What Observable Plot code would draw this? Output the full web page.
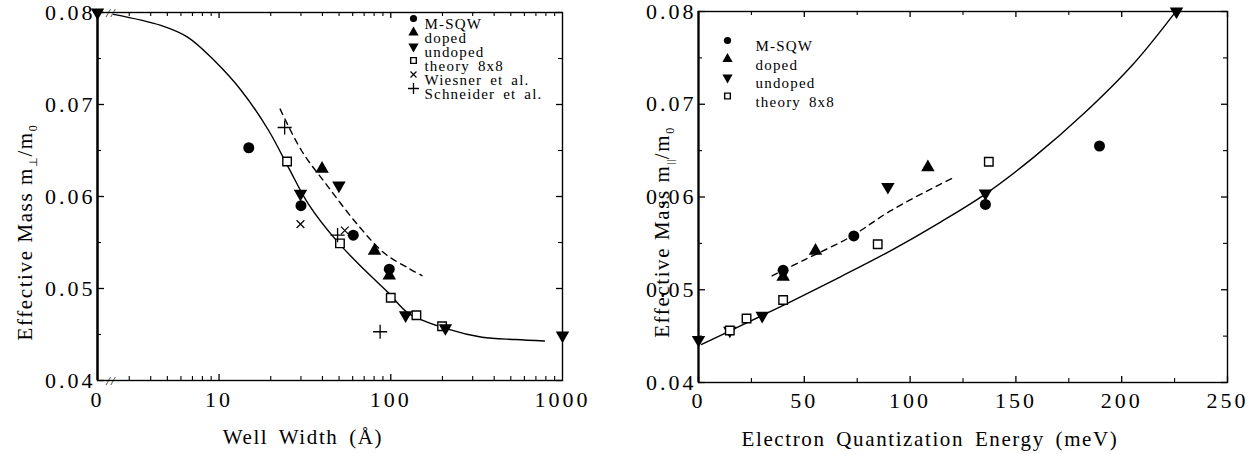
<!DOCTYPE html>
<html><head><meta charset="utf-8">
<script src="https://cdn.jsdelivr.net/npm/d3@7"></script>
<script src="https://cdn.jsdelivr.net/npm/@observablehq/plot@0.6"></script>
<style>
body{margin:0;background:#fff;}
#wrap{display:flex;width:1252px;height:454px;overflow:hidden;}
svg text{font-family:"Liberation Serif","Times New Roman",serif;}
</style></head><body><div id="wrap"></div>
<script>
// ---------- LEFT PANEL DATA (well width in Å, effective mass m⊥/m0) ----------
const X0 = 1.96; // where the "0" of the broken log axis sits
const leftMsqwW = [14.9, 30, 60.5, 98];
const leftMsqwM = [0.0653, 0.0590, 0.0558, 0.0521];
const leftDopedW = [39.8, 80.4, 98];
const leftDopedM = [0.0630, 0.0541, 0.0514];
const leftUndopedW = [0, 29.8, 49.9, 122, 208, 1000];
const leftUndopedM = [0.0800, 0.0603, 0.0612, 0.0471, 0.0457, 0.0449];
const leftTheoryW = [24.9, 50.6, 100, 141, 199];
const leftTheoryM = [0.0638, 0.0549, 0.0490, 0.0471, 0.0459];
const leftWiesnerW = [29.8, 54];
const leftWiesnerM = [0.0570, 0.0563];
const leftSchneiderW = [24.1, 49, 86.7];
const leftSchneiderM = [0.0675, 0.0558, 0.0453];
const leftSolidW = [2.43, 4.58, 6.59, 9.35, 13.5, 19.4, 25.3, 33.1, 48.3, 70.5, 97.3, 127, 218, 340, 531, 785];
const leftSolidM = [0.0798, 0.0786, 0.0773, 0.0748, 0.0715, 0.0672, 0.0632, 0.0592, 0.0552, 0.0520, 0.0495, 0.0473, 0.04555, 0.0447, 0.04445, 0.0443];
const leftDashW = [22.7, 30.2, 43.4, 65, 92.3, 127, 152];
const leftDashM = [0.0695, 0.0650, 0.0610, 0.0568, 0.0538, 0.0522, 0.0514];
const leftXLabelVals = [X0, 10, 100, 1000];
const leftXLabelText = ["0", "10", "100", "1000"];
const leftXMajor = [10, 100];
const leftXMinor = [3,4,5,6,7,8,9,20,30,40,50,60,70,80,90,200,300,400,500,600,700,800,900];
const leftLegend = ["M-SQW", "doped", "undoped", "theory  8x8", "Wiesner  et  al.", "Schneider  et  al."];

// ---------- RIGHT PANEL DATA (electron quantization energy meV, m∥/m0) ----------
const rightMsqwE = [40, 73.4, 135.6, 189.5];
const rightMsqwM = [0.0521, 0.0558, 0.0592, 0.0655];
const rightDopedE = [40, 55.3, 108.4];
const rightDopedM = [0.0514, 0.0542, 0.0632];
const rightUndopedE = [0, 14.8, 30.1, 89.5, 135.6, 225.9];
const rightUndopedM = [0.0446, 0.0456, 0.0472, 0.0611, 0.0604, 0.0800];
const rightTheoryE = [14.8, 22.7, 40, 84.7, 137.2];
const rightTheoryM = [0.0456, 0.0469, 0.0489, 0.0549, 0.0638];
const rightSolidE = [1.5, 19.8, 43.5, 67.1, 90.7, 114.4, 134.8, 158.5, 182.1, 205.7, 225.9];
const rightSolidM = [0.0441, 0.0461, 0.0487, 0.0514, 0.0542, 0.0573, 0.0602, 0.0643, 0.0690, 0.0744, 0.0801];
const rightDashE = [34.8, 49.8, 71.8, 90.7, 114.4, 120.7];
const rightDashM = [0.0515, 0.0532, 0.0557, 0.0585, 0.0614, 0.0621];
const rightXMajor = [0, 50, 100, 150, 200, 250];
const rightXMinor = [25, 75, 125, 175, 225];
const rightLegend = ["M-SQW", "doped", "undoped", "theory  8x8"];

const yMajor = [0.04, 0.05, 0.06, 0.07, 0.08];
const yMinor = [0.045, 0.055, 0.065, 0.075];

// ---------- helpers ----------
const pts = (xs, ys) => xs.map((x, i) => ({x, y: ys[i]}));
const triDown = {draw(ctx, size) {
  const s3 = Math.sqrt(3), y = -Math.sqrt(size / (s3 * 3));
  ctx.moveTo(0, -y * 2); ctx.lineTo(-s3 * y, y); ctx.lineTo(s3 * y, y); ctx.closePath();
}};
const sym = {
  msqw:      {symbol: "circle", fill: "black", stroke: "none"},
  doped:     {symbol: "triangle", fill: "black", stroke: "none"},
  undoped:   {symbol: triDown, fill: "black", stroke: "none"},
  theory:    {symbol: "square", fill: "white", stroke: "black", strokeWidth: 1.4},
  wiesner:   {symbol: "times", fill: "none", stroke: "black", strokeWidth: 1.2},
  schneider: {symbol: "plus", fill: "none", stroke: "black", strokeWidth: 1.3}
};
const rBig = {msqw: 5.5, doped: 5, undoped: 5, theory: 4.8, wiesner: 3.6, schneider: 4.6};
const rLeg = {msqw: 3.6, doped: 3.8, undoped: 3.8, theory: 3.2, wiesner: 2.8, schneider: 3.6};

function frameTicks(xMaj, xMin, yMaj, yMin, PW, PH) {
  const m = [];
  m.push(Plot.tickY(yMaj, {y: d => d, insetRight: PW - 7, stroke: "black", strokeWidth: 1.3}));
  m.push(Plot.tickY(yMin, {y: d => d, insetRight: PW - 4, stroke: "black", strokeWidth: 1.1}));
  m.push(Plot.tickY(yMaj, {y: d => d, insetLeft: PW - 6, stroke: "black", strokeWidth: 1.3}));
  m.push(Plot.tickY(yMin, {y: d => d, insetLeft: PW - 4, stroke: "black", strokeWidth: 1.1}));
  m.push(Plot.tickX(xMaj, {x: d => d, insetTop: PH - 6, stroke: "black", strokeWidth: 1.3}));
  m.push(Plot.tickX(xMin, {x: d => d, insetTop: PH - 4, stroke: "black", strokeWidth: 1.1}));
  m.push(Plot.tickX(xMaj, {x: d => d, insetBottom: PH - 6, stroke: "black", strokeWidth: 1.3}));
  m.push(Plot.tickX(xMin, {x: d => d, insetBottom: PH - 4, stroke: "black", strokeWidth: 1.1}));
  return m;
}
function legendMarks(keys, labels, dxSym, dxText, dy0, step) {
  const m = [];
  keys.forEach((k, i) => {
    m.push(Plot.dot([0], {frameAnchor: "top-left", dx: dxSym, dy: dy0 + step * i, r: rLeg[k], ...sym[k]}));
    m.push(Plot.text([labels[i]], {frameAnchor: "top-left", dx: dxText, dy: dy0 + step * i, textAnchor: "start", fontSize: 15, fill: "black"}));
  });
  return m;
}
const dots = (data, k, xfn) => Plot.dot(data, {x: xfn || "x", y: "y", r: rBig[k], ...sym[k]});
const style = {fontFamily: "Liberation Serif", fontSize: "20px", background: "white", color: "black", overflow: "visible"};

// ---------- LEFT ----------
const LW = 626, LH = 454, LmL = 97, LmR = 64, LmT = 12, LmB = 74;
const LPW = LW - LmL - LmR, LPH = LH - LmT - LmB;
const lx = d => d.x === 0 ? X0 : d.x;
const left = Plot.plot({
  width: LW, height: LH, marginLeft: LmL, marginRight: LmR, marginTop: LmT, marginBottom: LmB,
  x: {type: "log", domain: [X0, 1000]},
  y: {domain: [0.04, 0.08]},
  style,
  marks: [
    Plot.frame({stroke: "black", strokeWidth: 1.4}),
    Plot.ruleX([X0], {stroke: "black", strokeWidth: 2.4}),
    ...frameTicks(leftXMajor, leftXMinor, yMajor, yMinor, LPW, LPH),
    Plot.text(["//", "//"], {x: [2.35, 2.35], y: [0.04, 0.08], fontSize: 13, fontStyle: "italic", fill: "black"}),
    Plot.axisY({ticks: yMajor, label: null, tickSize: 0, tickPadding: 2, tickFormat: d3.format(".2f"), fontSize: 22}),
    Plot.axisX({ticks: leftXLabelVals, label: null, tickSize: 0, tickPadding: 11, tickFormat: d => leftXLabelText[leftXLabelVals.indexOf(d)], fontSize: 22}),
    Plot.line(pts(leftSolidW, leftSolidM), {x: "x", y: "y", curve: "catmull-rom", stroke: "black", strokeWidth: 1.4}),
    Plot.line(pts(leftDashW, leftDashM), {x: "x", y: "y", curve: "catmull-rom", stroke: "black", strokeWidth: 1.4, strokeDasharray: "6,5"}),
    dots(pts(leftTheoryW, leftTheoryM), "theory"),
    dots(pts(leftMsqwW, leftMsqwM), "msqw"),
    dots(pts(leftDopedW, leftDopedM), "doped"),
    dots(pts(leftUndopedW, leftUndopedM), "undoped", lx),
    dots(pts(leftWiesnerW, leftWiesnerM), "wiesner"),
    dots(pts(leftSchneiderW, leftSchneiderM), "schneider"),
    ...legendMarks(["msqw", "doped", "undoped", "theory", "wiesner", "schneider"], leftLegend, 316, 327, 6, 14)
  ]
});

// ---------- RIGHT ----------
const RW = 626, RH = 454, RmL = 72, RmR = 25, RmT = 11, RmB = 72;
const RPW = RW - RmL - RmR, RPH = RH - RmT - RmB;
const right = Plot.plot({
  width: RW, height: RH, marginLeft: RmL, marginRight: RmR, marginTop: RmT, marginBottom: RmB,
  x: {domain: [0, 250]},
  y: {domain: [0.04, 0.08]},
  style,
  marks: [
    Plot.frame({stroke: "black", strokeWidth: 1.4}),
    Plot.ruleX([0], {stroke: "black", strokeWidth: 2.2}),
    ...frameTicks(rightXMajor, rightXMinor, yMajor, yMinor, RPW, RPH),
    Plot.axisY({ticks: yMajor, label: null, tickSize: 0, tickPadding: 2, tickFormat: d3.format(".2f"), fontSize: 22}),
    Plot.axisX({ticks: rightXMajor, label: null, tickSize: 0, tickPadding: 10, fontSize: 22}),
    Plot.line(pts(rightSolidE, rightSolidM), {x: "x", y: "y", curve: "catmull-rom", stroke: "black", strokeWidth: 1.4}),
    Plot.line(pts(rightDashE, rightDashM), {x: "x", y: "y", curve: "catmull-rom", stroke: "black", strokeWidth: 1.4, strokeDasharray: "6,5"}),
    dots(pts(rightMsqwE, rightMsqwM), "msqw"),
    dots(pts(rightDopedE, rightDopedM), "doped"),
    dots(pts(rightUndopedE, rightUndopedM), "undoped"),
    dots(pts(rightTheoryE, rightTheoryM), "theory"),
    ...legendMarks(["msqw", "doped", "undoped", "theory"], rightLegend, 29, 57, 29, 18.5)
  ]
});

const wrap = document.getElementById("wrap");
wrap.appendChild(left);
wrap.appendChild(right);

// letter spacing for the scanned-looking wide type
[left, right].forEach(svg => {
  d3.select(svg).selectAll('[aria-label$="tick label"] text').attr("letter-spacing", "3");
  d3.select(svg).selectAll('[aria-label="text"] text').attr("letter-spacing", "1.2").attr("word-spacing", "-1");
});

// axis titles (with sub-scripts)
function yTitle(svg, x, y, sub) {
  const t = d3.select(svg).append("text")
    .attr("transform", `translate(${x},${y}) rotate(-90)`)
    .attr("text-anchor", "middle").attr("font-size", 21).attr("letter-spacing", "1.6").attr("fill", "black");
  t.append("tspan").text("Effective Mass m");
  t.append("tspan").attr("font-size", 11).attr("letter-spacing", "0.5").attr("dy", 5).text(sub);
  t.append("tspan").attr("dy", -5).text("/m");
  t.append("tspan").attr("font-size", 12).attr("dy", 5).text("0");
}
function xTitle(svg, x, y, txt) {
  d3.select(svg).append("text").attr("x", x).attr("y", y).attr("text-anchor", "middle")
    .attr("font-size", 21).attr("letter-spacing", "1.6").attr("word-spacing", "4").attr("fill", "black").text(txt);
}
yTitle(left, 32, 232, "⊥");
xTitle(left, 303, 444, "Well Width (Å)");
yTitle(right, 43, 232, "||");
xTitle(right, 304, 446, "Electron Quantization Energy (meV)");
</script></body></html>
